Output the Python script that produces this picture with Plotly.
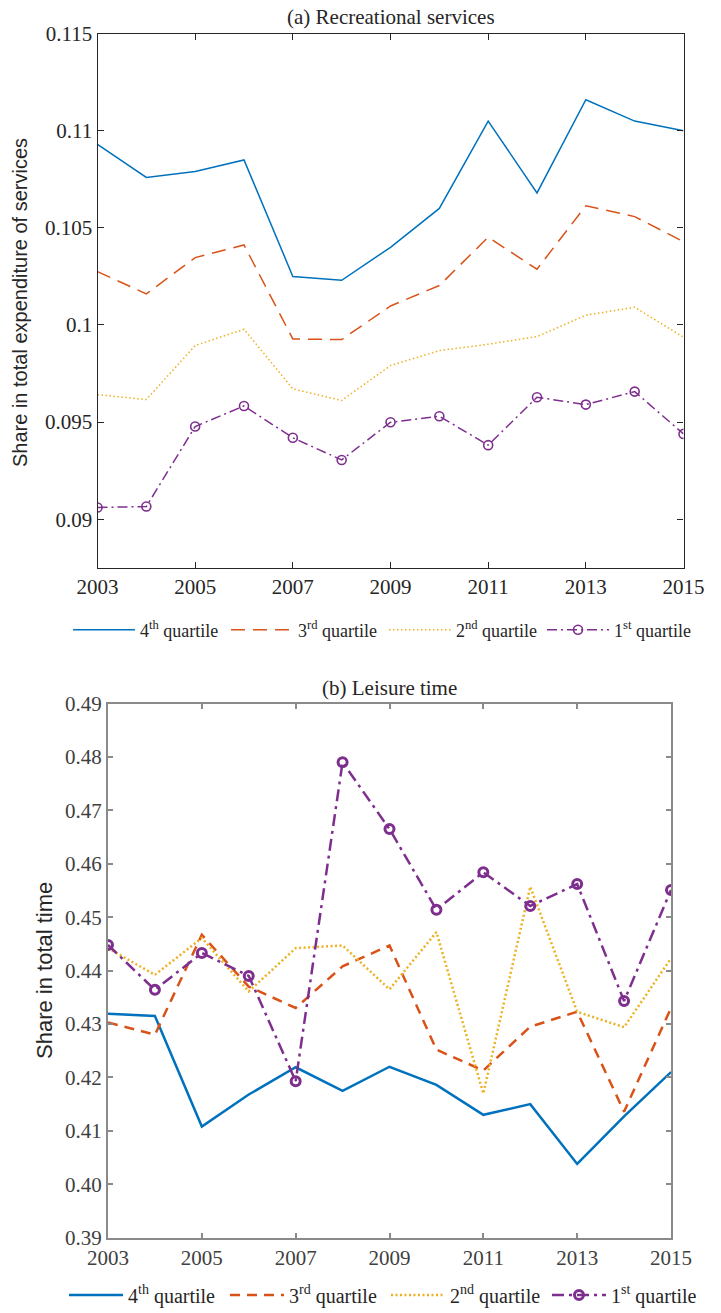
import plotly.graph_objects as go

# ---- data -------------------------------------------------------------
years = [2003, 2004, 2005, 2006, 2007, 2008, 2009, 2010, 2011, 2012, 2013, 2014, 2015]
year_ticks = [2003, 2005, 2007, 2009, 2011, 2013, 2015]

quartile_names = ["4<sup>th</sup> quartile", "3<sup>rd</sup> quartile",
                  "2<sup>nd</sup> quartile", "1<sup>st</sup> quartile"]

# (a) share of recreational services in total services expenditure
rec_q4 = [0.1093, 0.1076, 0.1079, 0.1085, 0.1025, 0.1023, 0.1040, 0.1060, 0.1105, 0.1068, 0.1116, 0.1105, 0.1100]
rec_q3 = [0.10275, 0.1016, 0.10347, 0.10412, 0.09928, 0.09925, 0.10098, 0.10203, 0.10452, 0.10287, 0.10614, 0.10558, 0.10429]
rec_q2 = [0.09641, 0.09616, 0.09894, 0.09978, 0.09671, 0.09611, 0.09791, 0.09868, 0.09901, 0.0994, 0.1005, 0.10091, 0.09937]
rec_q1 = [0.0906, 0.09065, 0.09477, 0.09583, 0.09419, 0.09305, 0.09499, 0.0953, 0.09381, 0.09628, 0.0959, 0.09657, 0.09439]
rec_ticks = [0.09, 0.095, 0.1, 0.105, 0.11, 0.115]
rec_ticktext = ["0.09", "0.095", "0.1", "0.105", "0.11", "0.115"]

# (b) share of leisure in total time
lei_q4 = [0.4319, 0.4315, 0.4108, 0.4168, 0.4219, 0.4175, 0.4220, 0.4186, 0.4130, 0.4150, 0.4038, 0.4127, 0.4210]
lei_q3 = [0.4303, 0.4280, 0.4467, 0.4370, 0.4330, 0.4408, 0.4447, 0.4252, 0.4213, 0.4295, 0.4323, 0.4136, 0.4330]
lei_q2 = [0.4442, 0.4392, 0.4461, 0.4361, 0.4442, 0.4447, 0.4365, 0.4472, 0.4170, 0.4557, 0.4323, 0.4294, 0.4423]
lei_q1 = [0.4448, 0.4364, 0.4433, 0.4390, 0.4193, 0.4790, 0.4665, 0.4514, 0.4584, 0.4521, 0.4562, 0.4343, 0.4551]
lei_ticks = [0.39, 0.40, 0.41, 0.42, 0.43, 0.44, 0.45, 0.46, 0.47, 0.48, 0.49]
lei_ticktext = ["0.39", "0.40", "0.41", "0.42", "0.43", "0.44", "0.45", "0.46", "0.47", "0.48", "0.49"]

# ---- styling ----------------------------------------------------------
W, H = 721, 1313
BLUE, ORANGE, YELLOW, PURPLE = "#0072BD", "#D95319", "#EDB120", "#7E2F8E"
SERIF = "Liberation Serif"
SANS = "Liberation Sans"


def px_x(p):
    return p / W


def px_y(p):
    return 1 - p / H


fig = go.Figure()

# panel (a)
top_styles = [
    (rec_q4, BLUE, "solid", 1.5, None),
    (rec_q3, ORANGE, "14px,8px", 1.5, None),
    (rec_q2, YELLOW, "1.5px,2.5px", 1.5, None),
    (rec_q1, PURPLE, "10px,4px,2px,4px", 1.5, dict(symbol="circle-open", size=9, color=PURPLE, line=dict(width=1.6, color=PURPLE))),
]
for (vals, col, dash, lw, mk), name in zip(top_styles, quartile_names):
    fig.add_trace(go.Scatter(
        x=years, y=vals, name=name, xaxis="x", yaxis="y", legend="legend",
        mode="lines+markers" if mk else "lines",
        line=dict(color=col, dash=dash, width=lw),
        marker=mk,
    ))

# panel (b)
bot_styles = [
    (lei_q4, BLUE, "solid", 2.5, None),
    (lei_q3, ORANGE, "10px,7px", 2.5, None),
    (lei_q2, YELLOW, "2px,2.5px", 2.5, None),
    (lei_q1, PURPLE, "12px,5px,3px,5px", 2.5, dict(symbol="circle-open", size=9, color=PURPLE, line=dict(width=3, color=PURPLE))),
]
for (vals, col, dash, lw, mk), name in zip(bot_styles, quartile_names):
    fig.add_trace(go.Scatter(
        x=years, y=vals, name=name, xaxis="x2", yaxis="y2", legend="legend2",
        mode="lines+markers" if mk else "lines",
        line=dict(color=col, dash=dash, width=lw),
        marker=mk,
    ))

top_axis = dict(showline=True, linewidth=1.2, linecolor="#262626", mirror="ticks",
                ticks="inside", ticklen=6, tickwidth=1.2, tickcolor="#262626",
                showgrid=False, zeroline=False,
                tickfont=dict(family=SERIF, size=21, color="#262626"))
bot_axis = dict(showline=True, linewidth=2, linecolor="#8a8a8a", mirror="ticks",
                ticks="inside", ticklen=5, tickwidth=2, tickcolor="#8a8a8a",
                showgrid=False, zeroline=False,
                tickfont=dict(family=SERIF, size=21, color="#404040"))

fig.update_layout(
    width=W, height=H,
    margin=dict(l=0, r=0, t=0, b=0, autoexpand=False),
    paper_bgcolor="white", plot_bgcolor="white",
    showlegend=True,
    xaxis=dict(top_axis, domain=[px_x(97.5), px_x(683.5)], range=[2003, 2015],
               tickvals=year_ticks, anchor="y"),
    yaxis=dict(top_axis, domain=[px_y(567.7), px_y(33.7)], range=[0.0875, 0.115],
               tickvals=rec_ticks, ticktext=rec_ticktext, anchor="x"),
    xaxis2=dict(bot_axis, domain=[px_x(108), px_x(671)], range=[2003, 2015],
                tickvals=year_ticks, anchor="y2"),
    yaxis2=dict(bot_axis, domain=[px_y(1237.7), px_y(703.5)], range=[0.39, 0.49],
                tickvals=lei_ticks, ticktext=lei_ticktext, anchor="x2"),
    legend=dict(orientation="h", x=px_x(68), y=px_y(630), xanchor="left", yanchor="middle",
                font=dict(family=SERIF, size=18, color="#262626"),
                itemwidth=62, entrywidth=81, entrywidthmode="pixels",
                bgcolor="rgba(0,0,0,0)", traceorder="normal"),
    legend2=dict(orientation="h", x=px_x(64), y=px_y(1295), xanchor="left", yanchor="middle",
                 font=dict(family=SERIF, size=20, color="#262626"),
                 itemwidth=54, entrywidth=92, entrywidthmode="pixels",
                 bgcolor="rgba(0,0,0,0)", traceorder="normal"),
    annotations=[
        dict(text="(a) Recreational services", x=px_x(390.5), y=px_y(17), xref="paper", yref="paper",
             showarrow=False, xanchor="center", yanchor="middle",
             font=dict(family=SERIF, size=21, color="#262626")),
        dict(text="(b) Leisure time", x=px_x(389.5), y=px_y(688), xref="paper", yref="paper",
             showarrow=False, xanchor="center", yanchor="middle",
             font=dict(family=SERIF, size=21, color="#262626")),
        dict(text="Share in total expenditure of services", x=px_x(20), y=px_y(303), xref="paper", yref="paper",
             showarrow=False, xanchor="center", yanchor="middle", textangle=-90,
             font=dict(family=SANS, size=20, color="#262626")),
        dict(text="Share in total time", x=px_x(44), y=px_y(971), xref="paper", yref="paper",
             showarrow=False, xanchor="center", yanchor="middle", textangle=-90,
             font=dict(family=SANS, size=22, color="#262626")),
    ],
)

fig.write_html("out.html")
